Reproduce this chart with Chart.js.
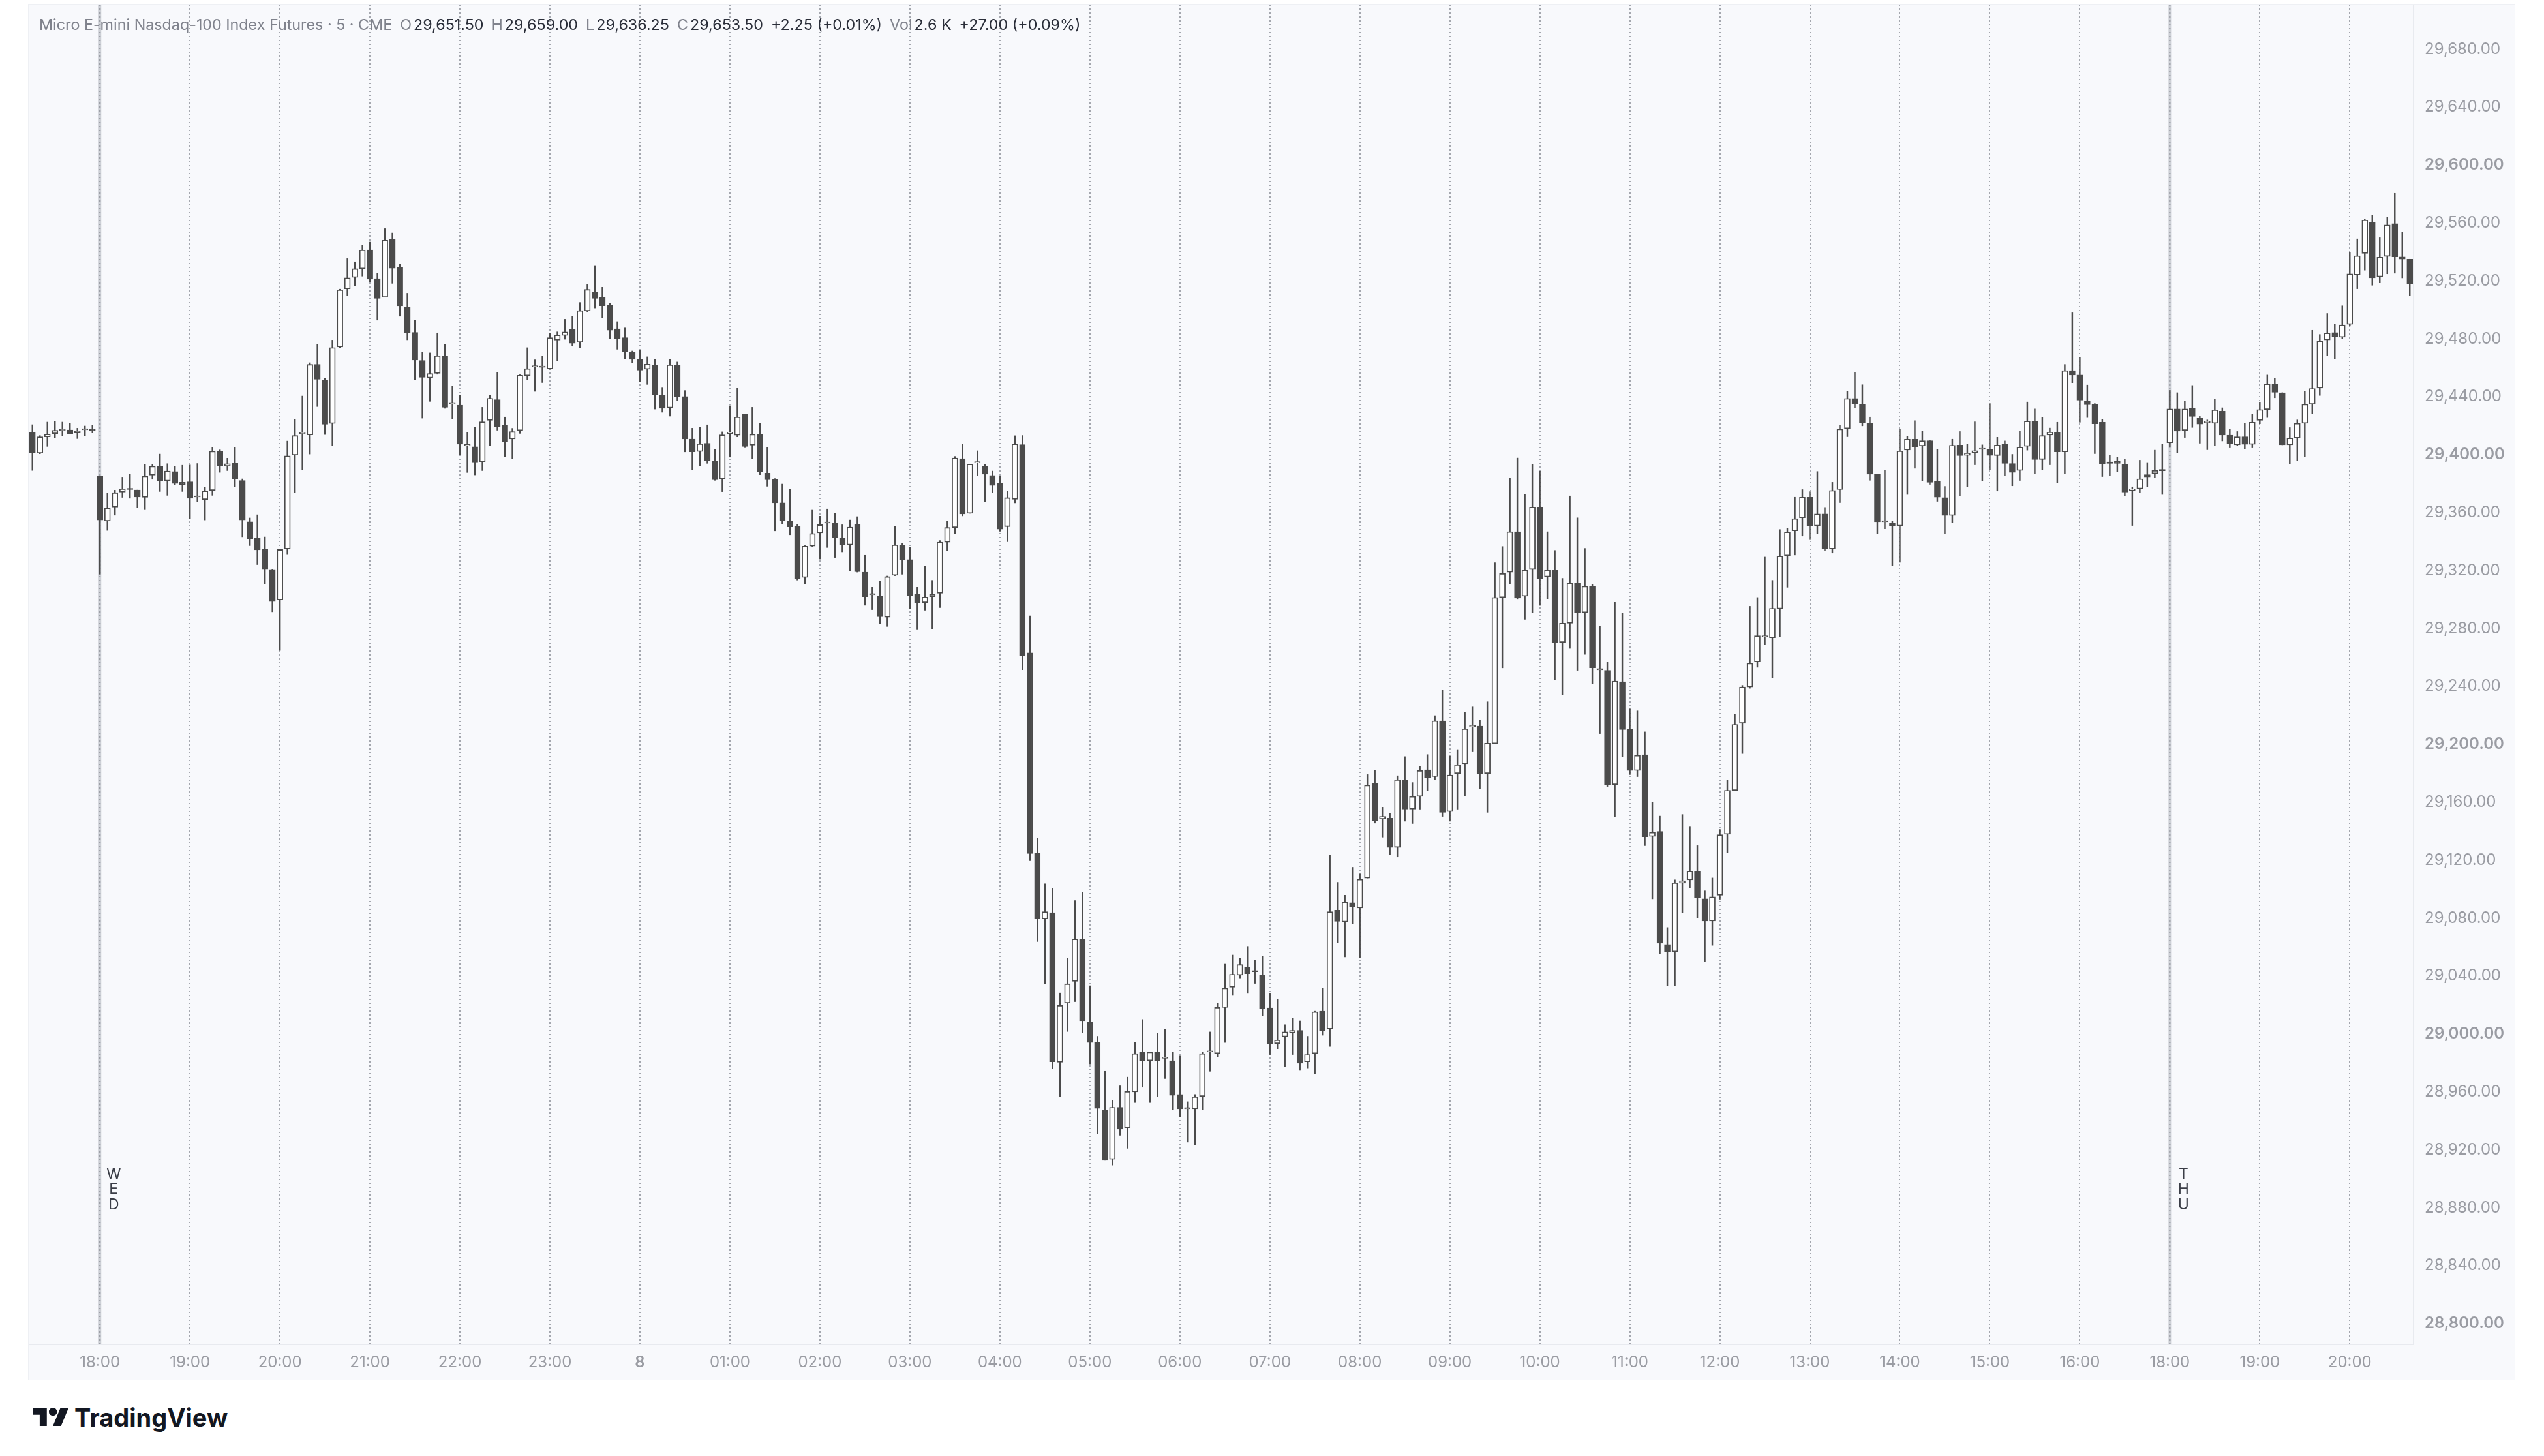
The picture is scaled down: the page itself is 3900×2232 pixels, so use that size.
<!DOCTYPE html>
<html>
<head>
<meta charset="utf-8">
<title>MNQ 5m</title>
<script src="https://cdn.jsdelivr.net/npm/chart.js@4.4.1/dist/chart.umd.min.js"></script>
<style>
  html, body { margin: 0; padding: 0; background: #ffffff; }
  body { width: 3900px; height: 2232px; position: relative; overflow: hidden; font-family: Inter, "Noto Sans", sans-serif; }
  #pane { position: absolute; left: 44px; top: 7px; width: 3811px; height: 2108px; background: #f8f9fc; outline: 1px solid #eef0f4; }
  #chart { position: absolute; left: 0; top: 0; }
  #legend { position: absolute; left: 60px; top: 25px; font-size: 23.3px; line-height: 26px; white-space: nowrap; color: #2a2e39; z-index: 2; }
  #legend .t { color: #7f828c; }
  #legend .k { color: #7f828c; margin-left: 12px; }
  #legend .v { margin-left: 3px; }
  #legend .d { margin-left: 12px; }
  #brand { position: absolute; left: 50px; top: 2150px; display: flex; align-items: center; gap: 8px; color: #131722; font-weight: 700; font-size: 38px; }
  #warn { position: absolute; left: 60px; top: 60px; color: red; font-size: 30px; z-index: 3; }
</style>
</head>
<body>
<div id="pane"><canvas id="chart" width="3811" height="2108"></canvas></div>
<div id="legend"><span class="t">Micro E-mini Nasdaq-100 Index Futures · 5 · CME</span><span class="k">O</span><span class="v">29,651.50</span><span class="k">H</span><span class="v">29,659.00</span><span class="k">L</span><span class="v">29,636.25</span><span class="k">C</span><span class="v">29,653.50</span><span class="d">+2.25 (+0.01%)</span><span class="k">Vol</span><span class="v">2.6 K</span><span class="d">+27.00 (+0.09%)</span></div>
<div id="brand"><svg width="56" height="43" viewBox="0 2 36 24"><path fill="#131722" d="M14 22H7V11H0V4h14v18zM28 22h-8l7.5-18h8L28 22z"/><circle fill="#131722" cx="20" cy="8" r="4"/></svg><span>TradingView</span></div>
<div id="warn"></div>
<script>
// sessions: tue close, wed session, thu session (5 minute bars)
const sessionOpen = ['16:15', '18:00', '18:00'];
const sessionBars = [9, 276, 33];
const sessionNames = ['', 'WED', 'THU'];
const midnightLabel = '8';

const priceTicks = [28800, 28840, 28880, 28920, 28960, 29000, 29040, 29080, 29120, 29160, 29200, 29240,
  29280, 29320, 29360, 29400, 29440, 29480, 29520, 29560, 29600, 29640, 29680];

const opens = [
  29415.3, 29401.0, 29412.3, 29414.5, 29416.5, 29417.1, 29415.0, 29417.1, 29417.7,
  29385.4, 29354.2, 29363.8, 29374.1, 29375.9, 29375.6, 29370.5, 29385.8, 29392.0, 29381.9, 29388.4, 29380.9,
  29381.3, 29370.7, 29369.0, 29375.3, 29402.4, 29392.0, 29394.0, 29382.2, 29353.7, 29342.6, 29334.8, 29320.4,
  29299.7, 29334.9, 29399.7, 29414.5, 29413.7, 29462.3, 29451.2, 29421.5, 29474.3, 29514.6, 29522.4, 29528.4,
  29541.4, 29521.6, 29508.7, 29548.5, 29529.3, 29501.9, 29484.4, 29465.0, 29453.1, 29456.1, 29468.2, 29434.8,
  29434.2, 29406.1, 29405.5, 29395.2, 29423.7, 29438.0, 29420.1, 29410.8, 29416.7, 29454.5, 29460.6, 29460.3,
  29459.3, 29479.1, 29482.3, 29486.5, 29477.6, 29499.2, 29512.0, 29508.4, 29503.1, 29486.9, 29480.8, 29470.7,
  29465.8, 29459.0, 29462.0, 29440.8, 29432.3, 29462.0, 29440.2, 29410.8, 29402.2, 29407.8, 29395.8, 29383.2,
  29414.6, 29413.4, 29427.8, 29406.6, 29414.3, 29387.2, 29383.2, 29366.7, 29354.0, 29350.7, 29315.2, 29336.9,
  29346.0, 29352.7, 29353.0, 29342.6, 29337.7, 29351.9, 29318.9, 29303.2, 29302.6, 29287.8, 29316.7, 29337.4,
  29327.5, 29303.4, 29297.9, 29302.0, 29304.3, 29339.6, 29349.7, 29397.3, 29359.5, 29394.3, 29391.7, 29385.7,
  29380.2, 29350.3, 29369.2, 29406.9, 29263.1, 29124.6, 29079.4, 29083.8, 28980.5, 29021.3, 29036.3, 29065.5,
  29008.4, 28994.1, 28947.6, 28913.4, 28949.3, 28935.3, 28959.9, 28987.5, 28981.5, 28987.5, 28983.1, 28981.5,
  28958.2, 28948.3, 28948.3, 28956.9, 28987.5, 28986.5, 29018.3, 29032.3, 29040.6, 29046.2, 29042.9, 29040.6,
  29018.0, 28993.4, 28998.1, 29000.7, 29002.4, 28980.8, 28986.5, 29015.7, 29003.4, 29085.4, 29077.4, 29090.6,
  29087.0, 29107.6, 29173.0, 29148.3, 29148.9, 29128.8, 29175.5, 29155.2, 29164.0, 29182.4, 29177.7, 29216.2,
  29153.5, 29179.9, 29186.5, 29212.1, 29212.6, 29179.9, 29200.5, 29301.4, 29318.8, 29346.8, 29302.3, 29320.7,
  29363.8, 29315.7, 29320.1, 29270.4, 29283.6, 29311.1, 29291.0, 29309.1, 29251.4, 29251.1, 29172.2, 29243.2,
  29210.2, 29181.9, 29192.8, 29136.4, 29139.8, 29061.8, 29056.8, 29104.1, 29106.4, 29112.5, 29093.3, 29078.0,
  29095.8, 29137.9, 29168.2, 29214.5, 29239.6, 29256.9, 29274.1, 29273.6, 29293.6, 29330.2, 29347.4, 29356.4,
  29370.6, 29350.8, 29359.1, 29334.9, 29375.9, 29418.0, 29438.8, 29434.9, 29421.8, 29386.5, 29353.6, 29353.0,
  29350.8, 29403.2, 29410.7, 29406.0, 29409.6, 29381.4, 29370.3, 29358.0, 29406.6, 29399.5, 29401.2, 29403.6,
  29403.9, 29399.4, 29407.1, 29393.9, 29389.1, 29405.8, 29423.2, 29396.7, 29413.5, 29415.2, 29402.0, 29458.1,
  29455.0, 29437.2, 29434.9, 29422.4, 29395.0, 29395.5, 29393.4, 29375.4, 29376.5, 29384.6, 29387.0, 29388.9,
  29408.2, 29431.6, 29416.8, 29432.0, 29425.1, 29422.1, 29421.6, 29430.0, 29413.5, 29406.8, 29412.3, 29407.1,
  29423.7, 29431.2, 29448.5, 29442.8, 29406.8, 29411.5, 29421.6, 29434.8, 29446.0, 29479.2, 29484.3, 29481.1,
  29490.0, 29524.1, 29539.0, 29560.7, 29522.9, 29536.9, 29559.5, 29536.6, 29535.0
];

const highs = [
  29420.7, 29413.2, 29422.5, 29423.2, 29422.5, 29421.7, 29418.3, 29419.8, 29420.5,
  29385.4, 29373.5, 29375.5, 29384.5, 29386.7, 29375.6, 29393.2, 29393.2, 29400.4, 29393.8, 29392.0, 29392.7,
  29392.9, 29393.9, 29377.7, 29405.1, 29403.3, 29397.6, 29405.1, 29383.3, 29356.3, 29358.5, 29343.2, 29321.0,
  29334.5, 29409.4, 29424.4, 29440.5, 29463.5, 29476.4, 29453.0, 29479.1, 29514.3, 29535.4, 29533.2, 29544.6,
  29546.8, 29525.2, 29556.1, 29553.1, 29531.4, 29511.5, 29492.8, 29470.7, 29470.3, 29484.1, 29476.0, 29447.3,
  29441.3, 29415.2, 29418.8, 29432.7, 29441.3, 29457.0, 29426.0, 29418.2, 29455.2, 29473.9, 29465.5, 29468.0,
  29483.8, 29484.8, 29493.5, 29495.8, 29505.1, 29517.4, 29530.2, 29515.6, 29504.8, 29491.9, 29487.5, 29471.6,
  29472.1, 29467.6, 29466.0, 29446.1, 29466.0, 29464.0, 29444.3, 29418.3, 29418.8, 29420.6, 29403.9, 29415.8,
  29433.8, 29445.8, 29428.1, 29432.7, 29421.8, 29405.1, 29383.5, 29379.7, 29376.1, 29351.9, 29337.2, 29361.7,
  29357.5, 29362.5, 29359.5, 29351.6, 29354.9, 29357.2, 29330.5, 29308.4, 29312.9, 29316.2, 29350.3, 29338.7,
  29336.2, 29308.4, 29323.1, 29313.2, 29340.7, 29354.2, 29398.8, 29407.5, 29393.5, 29402.7, 29393.5, 29388.7,
  29385.0, 29374.8, 29413.1, 29413.2, 29288.7, 29135.2, 29103.7, 29100.4, 29028.3, 29052.2, 29092.1, 29097.7,
  29033.3, 28998.4, 28974.2, 28954.3, 28964.2, 28970.2, 28994.1, 29010.0, 28987.5, 29000.7, 29003.4, 28987.5,
  28984.8, 28953.2, 28958.2, 28987.5, 29001.4, 29021.3, 29048.2, 29054.5, 29052.2, 29060.5, 29051.2, 29053.9,
  29028.0, 29024.0, 29006.4, 29010.7, 29009.0, 28998.4, 29015.7, 29031.6, 29123.6, 29104.7, 29095.8, 29115.1,
  29110.4, 29179.1, 29181.9, 29156.6, 29152.4, 29178.3, 29191.5, 29173.6, 29184.6, 29192.9, 29219.8, 29237.7,
  29192.0, 29196.4, 29222.3, 29225.8, 29216.8, 29229.4, 29325.4, 29336.6, 29383.9, 29397.7, 29372.4, 29393.5,
  29388.6, 29346.8, 29333.9, 29314.6, 29371.5, 29356.4, 29335.3, 29310.2, 29281.4, 29256.6, 29298.1, 29290.4,
  29224.5, 29223.1, 29208.6, 29160.2, 29150.4, 29073.5, 29106.4, 29151.5, 29143.4, 29130.0, 29098.8, 29107.7,
  29141.2, 29175.2, 29220.6, 29240.7, 29295.3, 29301.4, 29329.3, 29313.2, 29348.3, 29349.4, 29370.6, 29375.9,
  29374.5, 29388.4, 29363.6, 29380.9, 29420.5, 29443.6, 29456.7, 29448.3, 29426.0, 29386.5, 29389.2, 29353.9,
  29417.7, 29412.9, 29423.5, 29416.5, 29410.1, 29403.7, 29378.1, 29410.7, 29416.0, 29407.1, 29422.7, 29406.8,
  29435.3, 29412.0, 29409.5, 29400.2, 29416.4, 29436.4, 29431.6, 29425.6, 29418.4, 29422.4, 29462.3, 29498.0,
  29467.4, 29448.1, 29435.3, 29424.5, 29399.5, 29398.3, 29397.0, 29377.8, 29396.2, 29394.6, 29403.1, 29407.4,
  29444.4, 29442.8, 29436.9, 29447.8, 29426.4, 29424.0, 29438.2, 29432.4, 29417.6, 29416.0, 29421.9, 29428.0,
  29436.1, 29455.0, 29453.0, 29442.8, 29418.7, 29424.0, 29443.8, 29485.9, 29483.0, 29497.5, 29490.0, 29502.8,
  29539.8, 29549.0, 29562.8, 29565.6, 29549.8, 29564.0, 29580.5, 29553.5, 29535.0
];

const lows = [
  29389.1, 29400.6, 29405.7, 29411.7, 29413.0, 29414.2, 29411.1, 29413.0, 29415.0,
  29317.4, 29347.7, 29358.2, 29370.5, 29369.9, 29363.2, 29362.0, 29383.0, 29374.6, 29371.9, 29379.4, 29374.6,
  29355.7, 29367.5, 29354.9, 29371.9, 29387.8, 29389.0, 29377.7, 29343.3, 29337.2, 29324.1, 29310.6, 29291.5,
  29264.8, 29331.0, 29373.8, 29389.4, 29400.4, 29433.2, 29413.9, 29406.4, 29473.7, 29510.0, 29516.4, 29523.3,
  29519.5, 29492.9, 29508.7, 29518.3, 29495.6, 29479.3, 29451.5, 29425.2, 29436.8, 29455.5, 29432.0, 29424.5,
  29400.1, 29387.7, 29386.0, 29389.0, 29406.4, 29416.9, 29398.5, 29397.4, 29414.7, 29451.8, 29443.7, 29449.8,
  29459.0, 29465.0, 29479.7, 29474.9, 29473.7, 29498.8, 29501.3, 29494.3, 29480.2, 29472.8, 29466.1, 29463.5,
  29450.3, 29448.5, 29431.5, 29429.3, 29426.6, 29437.1, 29401.9, 29389.5, 29392.5, 29394.0, 29382.3, 29374.5,
  29398.3, 29412.3, 29404.8, 29397.0, 29386.2, 29378.2, 29347.4, 29352.2, 29344.7, 29313.4, 29310.7, 29336.2,
  29327.9, 29335.9, 29329.0, 29332.9, 29319.7, 29318.9, 29296.0, 29293.0, 29283.3, 29281.4, 29316.4, 29317.4,
  29293.4, 29279.1, 29292.6, 29279.6, 29294.4, 29333.6, 29345.2, 29357.7, 29359.5, 29385.3, 29367.3, 29374.0,
  29347.1, 29339.9, 29366.7, 29251.5, 29119.6, 29063.8, 29034.6, 28975.8, 28956.9, 29001.7, 29022.3, 29000.7,
  28979.2, 28931.0, 28912.7, 28909.4, 28930.0, 28921.0, 28952.6, 28963.2, 28952.6, 28956.6, 28969.2, 28947.6,
  28942.6, 28925.3, 28923.3, 28947.6, 28974.2, 28984.1, 28994.1, 29026.6, 29038.2, 29028.0, 29034.9, 29012.4,
  28985.8, 28989.8, 28977.5, 28985.8, 28974.8, 28976.5, 28972.5, 28999.1, 28991.4, 29062.8, 29053.2, 29076.0,
  29052.7, 29107.6, 29145.6, 29135.9, 29123.6, 29122.2, 29146.9, 29145.3, 29155.2, 29168.1, 29175.5, 29150.2,
  29146.9, 29155.2, 29164.5, 29194.8, 29169.5, 29153.0, 29200.5, 29252.8, 29310.5, 29300.1, 29286.3, 29291.0,
  29295.9, 29300.6, 29244.3, 29234.1, 29266.2, 29251.1, 29262.1, 29241.8, 29207.4, 29170.9, 29150.2, 29191.5,
  29179.1, 29177.7, 29130.0, 29093.3, 29055.4, 29033.3, 29033.1, 29083.5, 29100.8, 29079.9, 29050.1, 29061.2,
  29093.0, 29125.0, 29168.2, 29193.6, 29238.7, 29253.2, 29268.8, 29245.7, 29274.4, 29308.4, 29330.7, 29343.8,
  29341.3, 29345.2, 29333.5, 29332.1, 29366.9, 29412.4, 29432.4, 29419.9, 29382.3, 29345.2, 29348.8, 29323.2,
  29325.7, 29372.5, 29390.6, 29381.7, 29379.5, 29367.8, 29345.2, 29353.0, 29371.4, 29377.8, 29393.0, 29381.7,
  29389.7, 29374.9, 29385.4, 29378.5, 29382.2, 29403.1, 29387.0, 29389.4, 29393.0, 29380.6, 29387.0, 29449.7,
  29422.4, 29425.6, 29400.7, 29384.9, 29385.7, 29388.1, 29371.4, 29351.1, 29373.6, 29377.8, 29384.1, 29372.5,
  29405.5, 29401.5, 29411.9, 29418.8, 29407.9, 29403.4, 29406.3, 29409.5, 29404.7, 29406.3, 29404.2, 29404.7,
  29421.3, 29425.6, 29439.3, 29406.8, 29393.4, 29395.8, 29398.7, 29428.4, 29440.9, 29468.6, 29466.3, 29480.3,
  29488.8, 29514.6, 29527.4, 29517.0, 29518.6, 29524.9, 29525.3, 29522.1, 29509.6
];

const closes = [
  29401.5, 29412.3, 29414.2, 29416.8, 29417.7, 29414.4, 29416.5, 29417.1, 29416.5,
  29354.9, 29363.2, 29373.8, 29376.4, 29376.2, 29370.7, 29385.2, 29392.0, 29381.8, 29388.7, 29380.1, 29379.4,
  29369.9, 29370.7, 29375.0, 29402.4, 29392.3, 29393.8, 29383.1, 29354.9, 29342.0, 29334.3, 29320.7, 29298.6,
  29334.5, 29399.2, 29413.2, 29414.5, 29462.3, 29452.1, 29421.0, 29474.0, 29513.8, 29522.1, 29528.4, 29541.3,
  29521.2, 29507.9, 29548.0, 29528.7, 29502.7, 29484.4, 29465.3, 29453.4, 29456.0, 29468.3, 29432.7, 29434.8,
  29407.2, 29406.1, 29394.9, 29422.7, 29438.9, 29419.5, 29409.1, 29415.9, 29454.8, 29459.4, 29460.6, 29460.3,
  29480.8, 29482.6, 29484.8, 29477.0, 29499.5, 29514.1, 29507.9, 29502.8, 29486.0, 29480.0, 29471.0, 29465.8,
  29458.4, 29462.5, 29441.3, 29432.0, 29462.0, 29439.8, 29410.8, 29401.9, 29407.5, 29395.8, 29382.7, 29413.7,
  29414.6, 29426.0, 29405.7, 29414.1, 29388.3, 29382.7, 29366.7, 29354.6, 29350.1, 29314.4, 29336.8, 29345.6,
  29351.6, 29352.7, 29342.9, 29337.7, 29350.0, 29319.2, 29302.0, 29303.2, 29288.1, 29315.8, 29337.7, 29327.6,
  29302.9, 29297.9, 29301.6, 29303.4, 29339.6, 29349.7, 29397.7, 29359.0, 29393.5, 29394.3, 29386.5, 29378.7,
  29348.6, 29370.3, 29407.4, 29261.4, 29124.6, 29079.4, 29084.4, 28980.8, 29019.7, 29034.6, 29065.5, 29009.0,
  28994.1, 28948.6, 28912.7, 28949.3, 28934.3, 28960.2, 28986.5, 28981.5, 28987.5, 28981.5, 28983.1, 28957.6,
  28948.3, 28948.3, 28956.6, 28986.5, 28987.5, 29018.3, 29031.6, 29041.2, 29047.9, 29041.6, 29042.9, 29017.3,
  28993.4, 28995.8, 29001.4, 29002.4, 28979.8, 28985.8, 29015.3, 29002.4, 29084.4, 29077.8, 29091.1, 29087.8,
  29106.8, 29171.7, 29147.5, 29150.2, 29128.8, 29175.5, 29155.2, 29164.0, 29181.9, 29176.9, 29216.2, 29153.0,
  29178.8, 29185.9, 29210.7, 29212.1, 29179.6, 29200.8, 29301.4, 29317.9, 29346.8, 29300.9, 29320.1, 29363.8,
  29314.4, 29320.1, 29270.4, 29283.6, 29311.1, 29291.0, 29309.1, 29252.8, 29251.4, 29172.2, 29243.7, 29210.2,
  29181.9, 29192.3, 29136.2, 29139.2, 29062.6, 29056.8, 29104.4, 29105.8, 29112.5, 29093.8, 29078.0, 29094.7,
  29137.6, 29168.2, 29213.7, 29239.6, 29256.0, 29275.0, 29274.1, 29293.9, 29329.9, 29346.6, 29355.8, 29370.6,
  29350.8, 29359.1, 29334.9, 29375.3, 29417.7, 29438.8, 29435.2, 29421.8, 29386.5, 29353.6, 29353.6, 29351.0,
  29402.6, 29410.7, 29405.1, 29409.6, 29380.9, 29370.6, 29358.0, 29406.5, 29399.4, 29401.2, 29402.8, 29403.6,
  29399.5, 29406.6, 29393.9, 29387.8, 29405.2, 29423.2, 29396.7, 29413.2, 29415.6, 29402.0, 29458.1, 29455.0,
  29437.7, 29434.5, 29421.3, 29393.4, 29393.9, 29393.9, 29374.1, 29375.4, 29383.3, 29386.2, 29389.1, 29388.9,
  29431.6, 29416.3, 29431.6, 29426.4, 29421.1, 29422.1, 29430.9, 29413.5, 29407.4, 29412.3, 29407.1, 29422.4,
  29431.2, 29448.9, 29443.0, 29406.8, 29411.5, 29421.6, 29434.8, 29445.7, 29478.2, 29484.0, 29481.4, 29489.6,
  29524.9, 29537.4, 29562.0, 29522.1, 29536.3, 29558.6, 29536.6, 29535.0, 29518.1
];

const candleDark = '#4b4b4b';
const candleHollow = '#ffffff';
const axisText = '#9a9ca3';

// bar times from the session table
const times = [];
const sessionStartIndex = [];
sessionOpen.forEach((t, s) => {
    sessionStartIndex.push(times.length);
    let [h, m] = t.split(':').map(Number);
    for (let k = 0; k < sessionBars[s]; k++) {
        times.push(String(h).padStart(2, '0') + ':' + String(m).padStart(2, '0'));
        m += 5;
        if (m === 60) { m = 0; h = (h + 1) % 24; }
    }
});

const lens = [opens.length, highs.length, lows.length, closes.length];
if (lens.some(n => n !== times.length)) {
    document.getElementById('warn').textContent = 'length mismatch ' + lens.join(',') + ' vs ' + times.length;
}

function isHour(i) {
    return !!times[i] && times[i].endsWith(':00');
}

// session separators with stacked day names
const sessionPlugin = {
    id: 'sessionBreaks',
    beforeDatasetsDraw(chart) {
        const { ctx, chartArea, scales } = chart;
        ctx.save();
        sessionStartIndex.forEach((idx, s) => {
            if (!sessionNames[s]) return;
            const px = scales.x.getPixelForValue(idx);
            ctx.setLineDash([]);
            ctx.strokeStyle = '#cdd0d6';
            ctx.lineWidth = 4;
            ctx.beginPath();
            ctx.moveTo(px, chartArea.top);
            ctx.lineTo(px, chartArea.bottom);
            ctx.stroke();
            ctx.setLineDash([2, 4]);
            ctx.strokeStyle = '#8f929a';
            ctx.lineWidth = 2;
            ctx.beginPath();
            ctx.moveTo(px, chartArea.top);
            ctx.lineTo(px, chartArea.bottom);
            ctx.stroke();
            ctx.fillStyle = '#3b3e47';
            ctx.font = '23px Inter';
            ctx.textAlign = 'center';
            ctx.textBaseline = 'middle';
            sessionNames[s].split('').forEach((ch, j) => {
                ctx.fillText(ch, px + 21, chartArea.bottom - 261 + j * 23.5);
            });
        });
        ctx.restore();
    }
};

new Chart(document.getElementById('chart'), {
    type: 'bar',
    data: {
        labels: times,
        datasets: [
            {
                label: 'body',
                data: opens.map((o, i) => [o, closes[i]]),
                backgroundColor: opens.map((o, i) => closes[i] >= o ? candleHollow : candleDark),
                borderColor: candleDark,
                borderWidth: 1.8,
                borderSkipped: false,
                barThickness: 9,
                minBarLength: 2,
                grouped: false,
                order: 1
            },
            {
                label: 'wick',
                data: lows.map((l, i) => [l, highs[i]]),
                backgroundColor: candleDark,
                borderWidth: 0,
                barThickness: 1.8,
                grouped: false,
                order: 2
            }
        ]
    },
    options: {
        responsive: false,
        devicePixelRatio: 1,
        animation: false,
        events: [],
        layout: { padding: 0 },
        plugins: { legend: { display: false }, tooltip: { enabled: false } },
        scales: {
            x: {
                type: 'category',
                offset: true,
                afterFit: s => { s.height = 54; s.paddingLeft = 0; s.paddingRight = 0; },
                grid: {
                    offset: false,
                    drawTicks: false,
                    lineWidth: 2,
                    color: c => isHour(c.index) ? '#a4a7ae' : 'rgba(0,0,0,0)'
                },
                border: { display: true, color: '#e8eaef', width: 2, dash: [2, 4] },
                ticks: {
                    autoSkip: false,
                    maxRotation: 0,
                    minRotation: 0,
                    padding: 13,
                    color: axisText,
                    font: c => ({ family: 'Inter', size: 24, weight: times[c.index] === '00:00' ? '600' : '400' }),
                    callback: (v, i) => {
                        if (!isHour(i)) return '';
                        return times[i] === '00:00' ? midnightLabel : times[i];
                    }
                }
            },
            y: {
                position: 'right',
                min: 28785.6,
                max: 29710.8,
                afterBuildTicks: s => { s.ticks = priceTicks.map(v => ({ value: v })); },
                afterFit: s => { s.width = 155; s.paddingTop = 0; s.paddingBottom = 0; },
                grid: { display: false, drawTicks: false },
                border: { display: true, color: '#e8eaef', width: 2 },
                ticks: {
                    padding: 17,
                    color: axisText,
                    font: c => ({ family: 'Inter', size: 24, weight: c.tick && c.tick.value % 200 === 0 ? '600' : '400' }),
                    callback: v => Number(v).toLocaleString('en-US', { minimumFractionDigits: 2, maximumFractionDigits: 2 })
                }
            }
        }
    },
    plugins: [sessionPlugin]
});
</script>
</body>
</html>
